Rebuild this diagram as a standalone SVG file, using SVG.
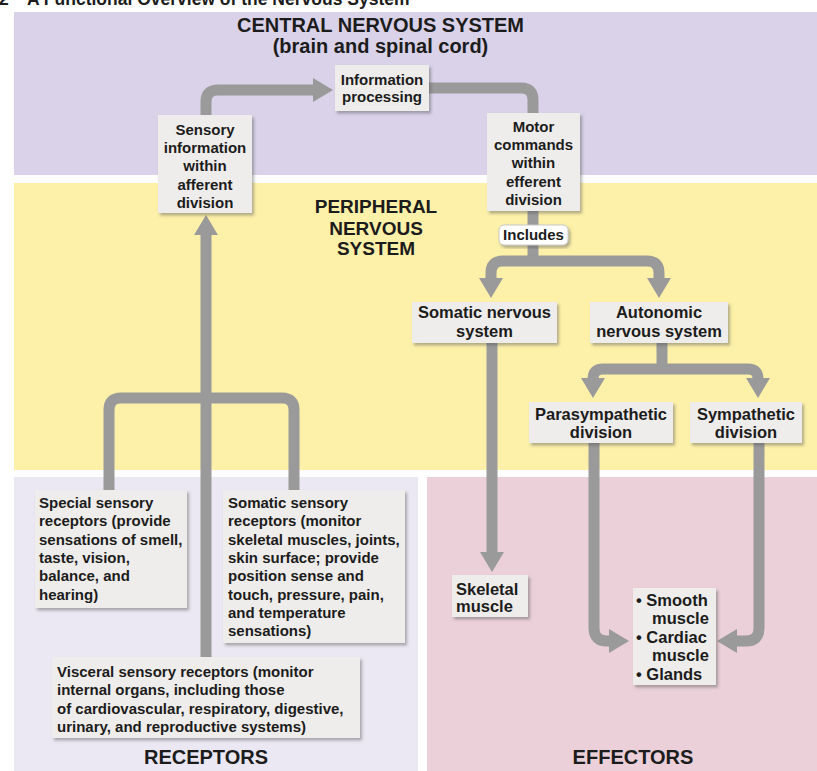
<svg xmlns="http://www.w3.org/2000/svg" width="817" height="771" viewBox="0 0 817 771">
<style>
  text { font-family: "Liberation Sans", Arial, sans-serif; font-weight: bold; fill: #1c1c1c; }
  .region-title { font-size: 20px; text-anchor: middle; }
  .pns-title { font-size: 19px; text-anchor: middle; }
  .small { font-size: 15px; }
  .mid { font-size: 16.5px; }
  .c { text-anchor: middle; }
  .box { fill: #efedeb; filter: url(#shadow); }
  .conn { fill: none; stroke: #9a9a9a; stroke-width: 11; stroke-linecap: butt; stroke-linejoin: round; }
</style>
<defs>
  <filter id="shadow" x="-10%" y="-10%" width="125%" height="130%">
    <feDropShadow dx="2" dy="2.5" stdDeviation="1.6" flood-color="#555555" flood-opacity="0.45"/>
  </filter>
  <marker id="arrow" markerUnits="userSpaceOnUse" markerWidth="24" markerHeight="24" viewBox="0 0 20 24" refX="2" refY="12" orient="auto">
    <path d="M0,0 L20,12 L0,24 Z" fill="#9a9a9a"/>
  </marker>
</defs>

<rect x="0" y="0" width="817" height="771" fill="#ffffff"/>

<!-- regions -->
<g id="regions">
  <rect x="14" y="12" width="803" height="163" fill="#d9d2e9"/>
  <rect x="14" y="183" width="803" height="287" fill="#fdf1a9"/>
  <rect x="14" y="477" width="404" height="294" fill="#ebe8f3"/>
  <rect x="427" y="477" width="390" height="294" fill="#ebd0d9"/>
</g>

<g id="title">
  <text x="-1" y="5" font-size="17.5"><tspan>2</tspan><tspan x="27">A Functional Overview of the Nervous System</tspan></text>
</g>

<g id="cns-label">
  <text class="region-title" x="380.5" y="32">CENTRAL NERVOUS SYSTEM</text>
  <text class="region-title" x="380.5" y="53">(brain and spinal cord)</text>
</g>

<g id="pns-label">
  <text class="pns-title" x="376" y="213">PERIPHERAL</text>
  <text class="pns-title" x="376" y="235">NERVOUS</text>
  <text class="pns-title" x="376" y="255">SYSTEM</text>
</g>

<g id="receptors-label">
  <text class="region-title" x="206" y="764">RECEPTORS</text>
</g>
<g id="effectors-label">
  <text class="region-title" x="633" y="764">EFFECTORS</text>
</g>

<!-- connectors -->
<g id="connectors">
  <path class="conn" d="M206,657 L206,233" marker-end="url(#arrow)"/>
  <path class="conn" d="M109,490 L109,410 Q109,398 121,398 L282,398 Q294,398 294,410 L294,490"/>
  <path class="conn" d="M206,115 L206,102 Q206,90 218,90 L315,90" marker-end="url(#arrow)"/>
  <path class="conn" d="M429,88 L521,88 Q533,88 533,100 L533,113"/>
  <path class="conn" d="M533,211 L533,262"/>
  <path class="conn" d="M533,261 L503,261 Q491,261 491,273 L491,280" marker-end="url(#arrow)"/>
  <path class="conn" d="M533,261 L647,261 Q659,261 659,273 L659,280" marker-end="url(#arrow)"/>
  <path class="conn" d="M662,343 L662,370"/>
  <path class="conn" d="M662,369 L603,369 Q593,369 593,379 L593,380" marker-end="url(#arrow)"/>
  <path class="conn" d="M662,369 L748,369 Q758,369 758,379 L758,380" marker-end="url(#arrow)"/>
  <path class="conn" d="M492,343 L492,554" marker-end="url(#arrow)"/>
  <path class="conn" d="M594,443 L594,628 Q594,641 607,641 L611,641" marker-end="url(#arrow)"/>
  <path class="conn" d="M759,443 L759,628 Q759,641 746,641 L735,641" marker-end="url(#arrow)"/>
</g>

<!-- nodes -->
<g id="info-processing">
  <rect class="box" x="335" y="65" width="94" height="46"/>
  <text class="small c" x="382" y="85">Information</text>
  <text class="small c" x="382" y="102">processing</text>
</g>

<g id="sensory-afferent">
  <rect class="box" x="158" y="115" width="94" height="98"/>
  <text class="small c" x="205" y="135">Sensory</text>
  <text class="small c" x="205" y="153">information</text>
  <text class="small c" x="205" y="171">within</text>
  <text class="small c" x="205" y="190">afferent</text>
  <text class="small c" x="205" y="208">division</text>
</g>

<g id="motor-efferent">
  <rect class="box" x="487" y="113" width="93" height="98"/>
  <text class="small c" x="533.5" y="132">Motor</text>
  <text class="small c" x="533.5" y="150">commands</text>
  <text class="small c" x="533.5" y="168">within</text>
  <text class="small c" x="533.5" y="187">efferent</text>
  <text class="small c" x="533.5" y="205">division</text>
</g>

<g id="includes">
  <rect x="499" y="225" width="69" height="20" rx="5" fill="#ffffff" stroke="#c8c8c8" stroke-width="1" filter="url(#shadow)"/>
  <text class="small c" x="533.5" y="240">Includes</text>
</g>

<g id="somatic-nervous-system">
  <rect class="box" x="412" y="302" width="145" height="41"/>
  <text class="mid c" x="484.5" y="318">Somatic nervous</text>
  <text class="mid c" x="484.5" y="337">system</text>
</g>

<g id="autonomic-nervous-system">
  <rect class="box" x="590" y="302" width="138" height="41"/>
  <text class="mid c" x="659" y="318">Autonomic</text>
  <text class="mid c" x="659" y="337">nervous system</text>
</g>

<g id="parasympathetic">
  <rect class="box" x="529" y="402" width="144" height="41"/>
  <text class="mid c" x="601" y="420">Parasympathetic</text>
  <text class="mid c" x="601" y="438">division</text>
</g>

<g id="sympathetic">
  <rect class="box" x="690" y="402" width="112" height="41"/>
  <text class="mid c" x="746" y="420">Sympathetic</text>
  <text class="mid c" x="746" y="438">division</text>
</g>

<g id="skeletal-muscle">
  <rect class="box" x="452" y="575" width="76" height="42"/>
  <text class="mid" x="456" y="595">Skeletal</text>
  <text class="mid" x="456" y="612">muscle</text>
</g>

<g id="smooth-cardiac-glands">
  <rect class="box" x="633" y="588" width="83" height="97"/>
  <text class="mid" x="636" y="606" font-size="17">• Smooth</text>
  <text class="mid" x="652" y="624" font-size="17">muscle</text>
  <text class="mid" x="636" y="643" font-size="17">• Cardiac</text>
  <text class="mid" x="652" y="661" font-size="17">muscle</text>
  <text class="mid" x="636" y="680" font-size="17">• Glands</text>
</g>

<g id="special-sensory">
  <rect class="box" x="35" y="490" width="152" height="118"/>
  <text class="small" x="39" y="508">Special sensory</text>
  <text class="small" x="39" y="526.3">receptors (provide</text>
  <text class="small" x="39" y="544.6">sensations of smell,</text>
  <text class="small" x="39" y="562.9">taste, vision,</text>
  <text class="small" x="39" y="581.2">balance, and</text>
  <text class="small" x="39" y="599.5">hearing)</text>
</g>

<g id="somatic-sensory">
  <rect class="box" x="223" y="490" width="182" height="153"/>
  <text class="small" x="228" y="508">Somatic sensory</text>
  <text class="small" x="228" y="526.3">receptors (monitor</text>
  <text class="small" x="228" y="544.6">skeletal muscles, joints,</text>
  <text class="small" x="228" y="562.9">skin surface; provide</text>
  <text class="small" x="228" y="581.2">position sense and</text>
  <text class="small" x="228" y="599.5">touch, pressure, pain,</text>
  <text class="small" x="228" y="617.8">and temperature</text>
  <text class="small" x="228" y="636.1">sensations)</text>
</g>

<g id="visceral-sensory">
  <rect class="box" x="52" y="657" width="308" height="81"/>
  <text class="small" x="57" y="677">Visceral sensory receptors (monitor</text>
  <text class="small" x="57" y="695.3">internal organs, including those</text>
  <text class="small" x="57" y="713.6">of cardiovascular, respiratory, digestive,</text>
  <text class="small" x="57" y="731.9">urinary, and reproductive systems)</text>
</g>
</svg>
